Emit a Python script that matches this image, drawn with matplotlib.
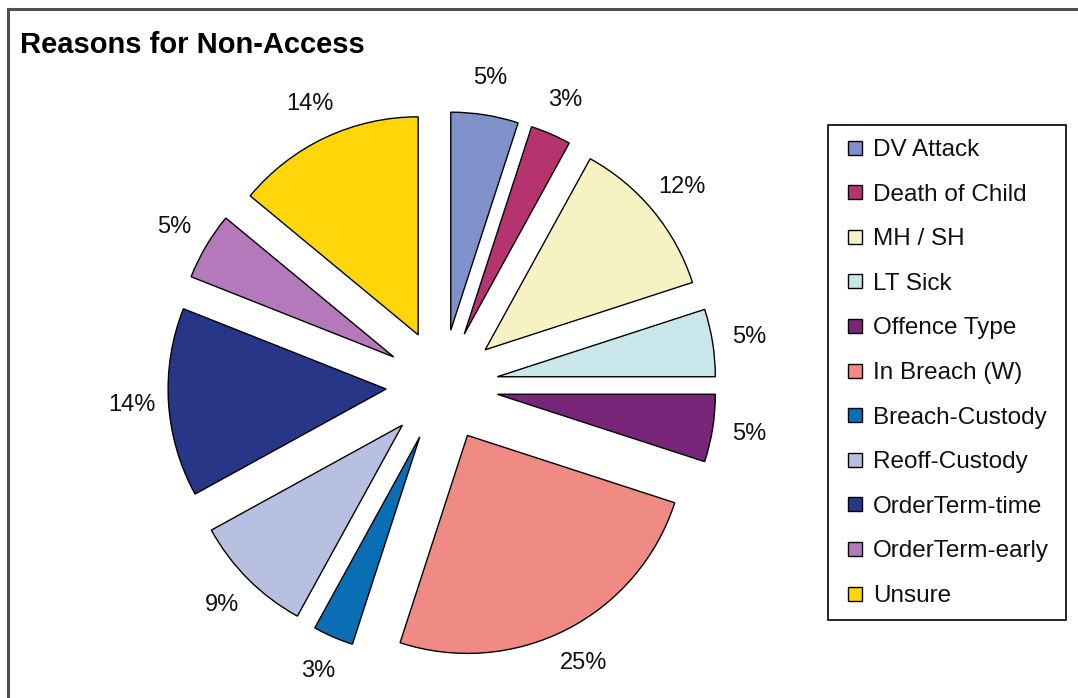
import matplotlib
matplotlib.use("Agg")
import matplotlib.pyplot as plt
from matplotlib.patches import Rectangle
from matplotlib.lines import Line2D

plt.rcParams['font.family'] = ['Liberation Sans', 'DejaVu Sans']

categories = ["DV Attack", "Death of Child", "MH / SH", "LT Sick", "Offence Type",
              "In Breach (W)", "Breach-Custody", "Reoff-Custody", "OrderTerm-time",
              "OrderTerm-early", "Unsure"]
values = [5, 3, 12, 5, 5, 25, 3, 9, 14, 5, 14]
colors = ["#8090C8", "#B5336F", "#F7F2C4", "#C9E7EB", "#78257A", "#F08A84",
          "#0A6EB4", "#B7C0E0", "#283687", "#B479BB", "#FFD60A"]
title = "Reasons for Non-Access"

W, H = 1078, 698
fig = plt.figure(figsize=(W / 100, H / 100), dpi=100)
fig.patch.set_facecolor("white")

# pie geometry in pixels
cx, cy, R = 442, 385.5, 218
explode_px = 56

ax = fig.add_axes([0, 0, 1, 1])
wedges, texts, autotexts = ax.pie(
    values, colors=colors, startangle=90, counterclock=False,
    explode=[explode_px / R] * len(values), radius=1, center=(0, 0),
    autopct='%1.0f%%', pctdistance=1.17,
    wedgeprops=dict(edgecolor="black", linewidth=1.0),
    textprops=dict(fontsize=17, color="#111111"))
ax.set_aspect('auto')
ax.set_xlim((0 - cx) / R, (W - cx) / R)
ax.set_ylim((cy - H) / R, cy / R)
ax.axis('off')

# title
fig.text(20 / W, 1 - 53 / H, title, fontsize=21, fontweight='bold',
         ha='left', va='baseline', color='black')

# outer frame (top and left lines visible)
fig.add_artist(Line2D([8 / W, 1.0], [1 - 9 / H, 1 - 9 / H], transform=fig.transFigure,
                      color="#505050", linewidth=2.2))
fig.add_artist(Line2D([8 / W, 8 / W], [0.0, 1 - 9 / H], transform=fig.transFigure,
                      color="#505050", linewidth=2.2))

# legend (manual, in pixel positions)
lx0, ly0, lx1, ly1 = 828, 125, 1066, 620
fig.add_artist(Rectangle((lx0 / W, 1 - ly1 / H), (lx1 - lx0) / W, (ly1 - ly0) / H,
                         transform=fig.transFigure, facecolor='white',
                         edgecolor='black', linewidth=1.2))
row0, step = 147.5, 44.6
sq = 14
for i, (lab, col) in enumerate(zip(categories, colors)):
    yc = row0 + i * step
    fig.add_artist(Rectangle((848 / W, 1 - (yc + sq / 2) / H), sq / W, sq / H,
                             transform=fig.transFigure, facecolor=col,
                             edgecolor='black', linewidth=1.0))
    fig.text(873 / W, 1 - yc / H, lab, fontsize=17.5, ha='left', va='center_baseline',
             color='#111111')

fig.savefig("out.png", dpi=100, facecolor="white")
